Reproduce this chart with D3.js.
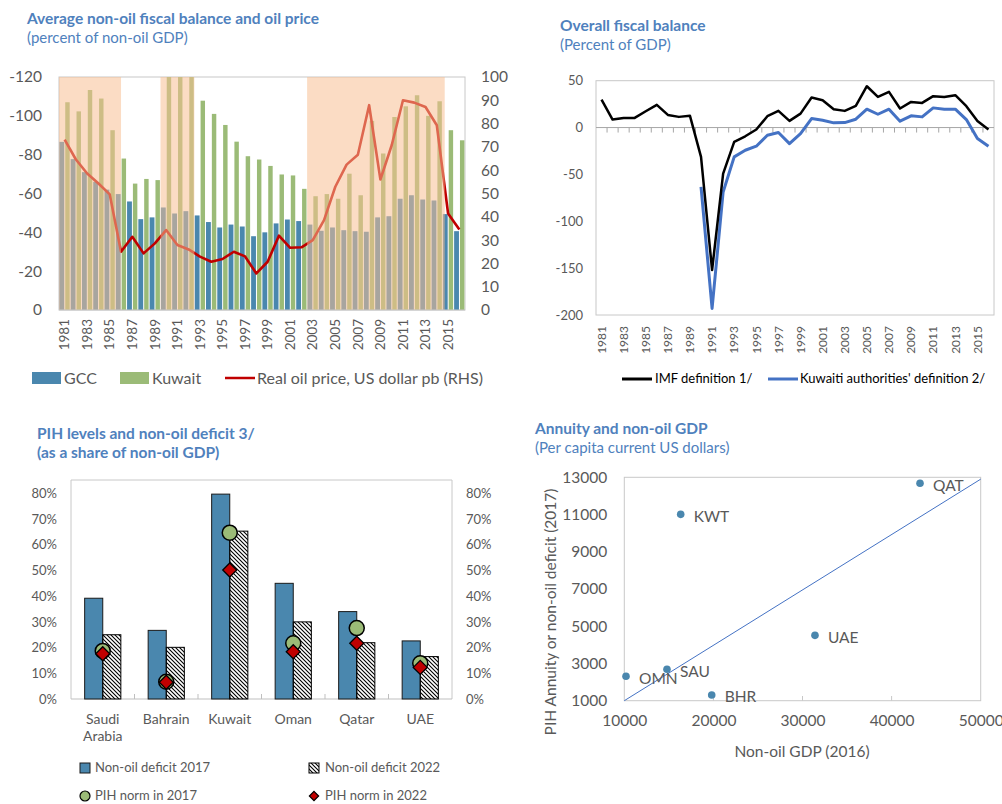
<!DOCTYPE html>
<html>
<head>
<meta charset="utf-8">
<script src="https://cdn.jsdelivr.net/npm/d3@7"></script>
<style>
  body { margin: 0; background: #fff; }
  text { font-family: Lato, "Open Sans", sans-serif; fill: #595959; }
  .ttl { fill: #4f81bd; font-weight: bold; font-size: 15.5px; }
  .sub { fill: #4f81bd; font-size: 15px; }
</style>
</head>
<body>
<svg width="1002" height="804"></svg>
<script>
(function () {
'use strict';

// ---- datos panel 1 ----
const years = d3.range(1981, 2017);
const yearLabels = [1981,1983,1985,1987,1989,1991,1993,1995,1997,1999,2001,2003,2005,2007,2009,2011,2013,2015];
const gccBal = [-86.6,-77.7,-71,-66,-62,-59.7,-55.9,-46.8,-47.7,-52.8,-49.7,-50.9,-48.7,-45.3,-42.5,-44,-43,-38,-40,-44.6,
                -46.6,-45.8,-44,-40.8,-42.5,-41.1,-40.6,-40.3,-47.7,-48.3,-57.3,-59.1,-56.9,-56.4,-49.4,-40.6];
const kuwaitBal = [-107,-102.3,-113.3,-108.9,-92.6,-78,-65.1,-67.5,-66.9,-160,-300,-140,-107.8,-101,-95.3,-86.7,-79.2,-77.5,
                   -74.2,-69.8,-69.3,-62.4,-58.6,-59.7,-57.3,-70.2,-59.1,-97.4,-80.6,-99.4,-104.9,-110.6,-100,-107.5,-92.6,-87.4];
const oilPrice = [73.1,64.6,58.6,54.3,49.6,25,31.4,24.3,28.6,34.3,27.9,26,22.9,20.7,21.9,25,23,15.7,20.7,31.9,
                  26.7,26.9,30,38.6,52.9,62.4,66.6,87.9,56,70.7,90,89,87.1,79.3,41.4,34.6];
const shadeFrom = [1981, 1990, 2003];
const shadeTo = [1986.5, 1993, 2015.2];
const leftTicks1 = [0,-20,-40,-60,-80,-100,-120];
const rightTicks1 = [0,10,20,30,40,50,60,70,80,90,100];

// ---- datos panel 2 ----
const imfBal = [29.9,8.5,10.3,10.3,17.4,24.2,13.5,11.4,12.5,-31.3,-152,-49.1,-15.3,-9.3,-2.1,12.1,17.8,7.1,14.9,32,
                29.2,19.6,17.8,23.1,44.1,32.7,38.1,20.3,27.4,26.3,33.5,32.7,34.5,22.8,7.1,-2.1];
const kwtAuthBal = [null,null,null,null,null,null,null,null,null,-63.3,-193,-68.7,-31.3,-24.2,-19.9,-8.2,-5.3,-17.1,-6.4,9.6,
                    7.8,5,5.3,8.9,19.6,14.2,19.6,6.8,12.5,11.4,21,19.6,19.6,8.5,-11.7,-19.9];
const ticks2 = [50,0,-50,-100,-150,-200];

// ---- datos panel 3 ----
const countries = ['Saudi Arabia','Bahrain','Kuwait','Oman','Qatar','UAE'];
const deficit2017 = [39.2,26.7,79.7,45,34,22.6];
const deficit2022 = [25,20.1,65.3,30,21.9,16.5];
const pihNorm2017 = [18.7,6.7,64.7,21.7,27.6,13.9];
const pihNorm2022 = [17.6,6.5,50.2,18.4,21.7,12.3];
const ticks3 = [0,10,20,30,40,50,60,70,80];

// ---- datos panel 4 ----
const codes = ['QAT','KWT','UAE','SAU','OMN','BHR'];
const nonOilGdp = [43190,16330,31400,14790,10190,19810];
const pihAnnuity = [12680,11010,4510,2690,2310,1306];
const refLineX = [10000, 50000];
const refLineY = [1000, 12900];
const xTicks4 = [10000,20000,30000,40000,50000];
const yTicks4 = [1000,3000,5000,7000,9000,11000,13000];

const azul = '#4a87ae';
const verde = '#9bbb77';
const rojo = '#c00000';
const borde = '#c8c8c8';
const guion = d => String(d);   // guion normal, como el original

const svg = d3.select('svg');

// patrón rayado
svg.append('defs').append('pattern')
    .attr('id', 'rayas')
    .attr('patternUnits', 'userSpaceOnUse')
    .attr('width', 4).attr('height', 4)
  .append('path')
    .attr('d', 'M-1,-1L5,5M3,-1L5,1M-1,3L1,5')
    .attr('stroke', '#000').attr('stroke-width', 1.1);

function limpiar(g) { g.select('.domain').remove(); g.selectAll('line').remove(); }

// =================== PANEL 1 ===================
svg.append('text').attr('class', 'ttl').attr('x', 27).attr('y', 24).text('Average non-oil fiscal balance and oil price');
svg.append('text').attr('class', 'sub').attr('x', 27).attr('y', 43).text('(percent of non-oil GDP)');

const x1 = d3.scaleBand().domain(years).range([59, 465]);
const xl1 = d3.scaleLinear().domain([1981, 2017]).range([59, 465]);
const yL = d3.scaleLinear().domain([0, -120]).range([310, 77]).clamp(true);
const yR = d3.scaleLinear().domain([0, 100]).range([310, 77]);
const bw1 = x1.bandwidth();

const p1 = svg.append('g');
p1.append('rect').attr('x', 59).attr('y', 77).attr('width', 406).attr('height', 233)
    .attr('fill', 'none').attr('stroke', borde);

p1.append('g').selectAll('rect').data(years).join('rect')
    .attr('x', d => x1(d) + 0.4)
    .attr('width', bw1 / 2 - 0.8)
    .attr('y', (d, i) => yL(gccBal[i]))
    .attr('height', (d, i) => yL(0) - yL(gccBal[i]))
    .attr('fill', azul);

p1.append('g').selectAll('rect').data(years).join('rect')
    .attr('x', d => x1(d) + bw1 / 2 + 0.6)
    .attr('width', bw1 / 2 - 1.2)
    .attr('y', (d, i) => yL(kuwaitBal[i]))
    .attr('height', (d, i) => yL(0) - yL(kuwaitBal[i]))
    .attr('fill', verde);

p1.append('path')
    .datum(oilPrice)
    .attr('fill', 'none').attr('stroke', rojo).attr('stroke-width', 2.6)
    .attr('stroke-linejoin', 'round')
    .attr('d', d3.line().x((d, i) => x1(years[i]) + bw1 / 2).y(d => yR(d)));

// sombreado encima
p1.append('g').selectAll('rect').data(shadeFrom).join('rect')
    .attr('x', d => xl1(d))
    .attr('width', (d, i) => xl1(shadeTo[i]) - xl1(d))
    .attr('y', 77).attr('height', 233)
    .attr('fill', '#f8be92').attr('opacity', 0.54);

p1.append('line').attr('x1', 59).attr('x2', 465).attr('y1', 310).attr('y2', 310).attr('stroke', borde);

p1.append('g').attr('transform', 'translate(59,0)')
    .call(d3.axisLeft(yL).tickValues(leftTicks1).tickSize(0).tickPadding(17).tickFormat(guion))
    .call(limpiar)
    .selectAll('text').style('font-size', '15.5px').style('font-family', 'Lato');

p1.append('g').attr('transform', 'translate(465,0)')
    .call(d3.axisRight(yR).tickValues(rightTicks1).tickSize(0).tickPadding(16).tickFormat(guion))
    .call(limpiar)
    .selectAll('text').style('font-size', '15.5px').style('font-family', 'Lato');

p1.append('g').attr('transform', 'translate(0,310)')
    .call(d3.axisBottom(x1).tickValues(yearLabels).tickSize(0))
    .call(limpiar)
    .selectAll('text')
      .attr('transform', 'rotate(-90)').attr('x', -9).attr('y', 0).attr('dy', '0.35em')
      .attr('text-anchor', 'end').style('font-size', '13.5px').style('font-family', 'Lato');

// leyenda 1
const l1 = p1.append('g');
l1.append('rect').attr('x', 32).attr('y', 372).attr('width', 29).attr('height', 12).attr('fill', azul);
l1.append('text').attr('x', 64).attr('y', 384).style('font-size', '16px').text('GCC');
l1.append('rect').attr('x', 120).attr('y', 372).attr('width', 29).attr('height', 12).attr('fill', verde);
l1.append('text').attr('x', 152).attr('y', 384).style('font-size', '16px').text('Kuwait');
l1.append('line').attr('x1', 225).attr('x2', 255).attr('y1', 378).attr('y2', 378).attr('stroke', rojo).attr('stroke-width', 2.5);
l1.append('text').attr('x', 257).attr('y', 384).style('font-size', '16px').text('Real oil price, US dollar pb (RHS)');

// =================== PANEL 2 ===================
svg.append('text').attr('class', 'ttl').attr('x', 560).attr('y', 31).text('Overall fiscal balance');
svg.append('text').attr('class', 'sub').attr('x', 560).attr('y', 50).text('(Percent of GDP)');

const x2 = d3.scaleBand().domain(years).range([596, 994]);
const y2 = d3.scaleLinear().domain([-200, 50]).range([315, 80.7]);
const bw2 = x2.bandwidth();
const p2 = svg.append('g');

p2.append('rect').attr('x', 596).attr('y', 80.7).attr('width', 398).attr('height', 234.3)
    .attr('fill', 'none').attr('stroke', borde);
p2.append('line').attr('x1', 596).attr('x2', 994).attr('y1', y2(0)).attr('y2', y2(0)).attr('stroke', '#a6a6a6');
p2.append('g').selectAll('line').data(years.slice(1)).join('line')
    .attr('x1', d => x2(d)).attr('x2', d => x2(d))
    .attr('y1', y2(0)).attr('y2', y2(0) + 5).attr('stroke', '#a6a6a6');

p2.append('g').attr('transform', 'translate(596,0)')
    .call(d3.axisLeft(y2).tickValues(ticks2).tickSize(0).tickPadding(13).tickFormat(guion))
    .call(limpiar)
    .selectAll('text').style('font-size', '13px').style('font-family', 'Lato');

p2.append('g').attr('transform', 'translate(0,315)')
    .call(d3.axisBottom(x2).tickValues(yearLabels).tickSize(0))
    .call(limpiar)
    .selectAll('text')
      .attr('transform', 'rotate(-90)').attr('x', -11).attr('y', 0).attr('dy', '0.35em')
      .attr('text-anchor', 'end').style('font-size', '12px').style('font-family', 'Lato');

const line2 = d3.line()
    .defined(d => d != null)
    .x((d, i) => x2(years[i]) + bw2 / 2)
    .y(d => y2(d));

p2.append('path').datum(kwtAuthBal)
    .attr('fill', 'none').attr('stroke', '#4472c4').attr('stroke-width', 3).attr('stroke-linejoin', 'round')
    .attr('d', line2);
p2.append('path').datum(imfBal)
    .attr('fill', 'none').attr('stroke', '#000').attr('stroke-width', 2.5).attr('stroke-linejoin', 'round')
    .attr('d', line2);

const l2 = p2.append('g');
l2.append('line').attr('x1', 622).attr('x2', 652).attr('y1', 379).attr('y2', 379).attr('stroke', '#000').attr('stroke-width', 3);
l2.append('text').attr('x', 655).attr('y', 383).style('font-size', '13px').style('fill', '#000').text('IMF definition 1/');
l2.append('line').attr('x1', 768).attr('x2', 798).attr('y1', 379).attr('y2', 379).attr('stroke', '#4472c4').attr('stroke-width', 3);
l2.append('text').attr('x', 800).attr('y', 383).style('font-size', '13px').style('fill', '#000').text("Kuwaiti authorities' definition 2/");

// =================== PANEL 3 ===================
svg.append('text').attr('class', 'ttl').attr('x', 37).attr('y', 439).text('PIH levels and non-oil deficit 3/');
svg.append('text').attr('class', 'ttl').attr('x', 37).attr('y', 458).text('(as a share of non-oil GDP)');

const x3 = d3.scaleBand().domain(countries).range([71, 452]);
const y3 = d3.scaleLinear().domain([0, 85]).range([699, 480.5]);
const bw3 = x3.bandwidth() * 0.285;
const cx3 = d => x3(d) + x3.bandwidth() / 2;
const p3 = svg.append('g');

p3.append('polyline').attr('points', '71,699 71,480 452,480 452,699')
    .attr('fill', 'none').attr('stroke', borde);
p3.append('line').attr('x1', 71).attr('x2', 452).attr('y1', 699).attr('y2', 699).attr('stroke', '#bfbfbf');
p3.append('g').selectAll('line').data(countries.slice(1)).join('line')
    .attr('x1', d => x3(d)).attr('x2', d => x3(d)).attr('y1', 699).attr('y2', 694).attr('stroke', '#bfbfbf');

p3.append('g').attr('transform', 'translate(71,0)')
    .call(d3.axisLeft(y3).tickValues(ticks3).tickSize(0).tickPadding(14).tickFormat(d => d + '%'))
    .call(limpiar)
    .selectAll('text').style('font-size', '13px').style('font-family', 'Lato');
p3.append('g').attr('transform', 'translate(452,0)')
    .call(d3.axisRight(y3).tickValues(ticks3).tickSize(0).tickPadding(14).tickFormat(d => d + '%'))
    .call(limpiar)
    .selectAll('text').style('font-size', '13px').style('font-family', 'Lato');

p3.append('g').selectAll('rect').data(countries).join('rect')
    .attr('x', d => cx3(d) - bw3).attr('width', bw3)
    .attr('y', (d, i) => y3(deficit2017[i])).attr('height', (d, i) => y3(0) - y3(deficit2017[i]))
    .attr('fill', azul).attr('stroke', '#1a1a1a').attr('stroke-width', 1);
p3.append('g').selectAll('rect').data(countries).join('rect')
    .attr('x', d => cx3(d)).attr('width', bw3)
    .attr('y', (d, i) => y3(deficit2022[i])).attr('height', (d, i) => y3(0) - y3(deficit2022[i]))
    .attr('fill', 'url(#rayas)').attr('stroke', '#000').attr('stroke-width', 1);

p3.append('g').selectAll('circle').data(countries).join('circle')
    .attr('cx', d => cx3(d)).attr('cy', (d, i) => y3(pihNorm2017[i])).attr('r', 7.5)
    .attr('fill', verde).attr('stroke', '#000').attr('stroke-width', 1.5);
p3.append('g').selectAll('path').data(countries).join('path')
    .attr('transform', (d, i) => `translate(${cx3(d)},${y3(pihNorm2022[i])})`)
    .attr('d', d3.symbol().type(d3.symbolDiamond2).size(125))
    .attr('fill', rojo).attr('stroke', '#000').attr('stroke-width', 1.3);

const etiq = p3.append('g').selectAll('text').data(countries).join('text')
    .attr('x', d => cx3(d)).attr('y', 724).attr('text-anchor', 'middle').style('font-size', '14px');
etiq.each(function (d) {
  const partes = d.split(' ');
  d3.select(this).selectAll('tspan').data(partes).join('tspan')
      .attr('x', cx3(d)).attr('dy', (p, k) => k === 0 ? 0 : 17).text(p => p);
});

const l3 = p3.append('g');
l3.append('rect').attr('x', 80).attr('y', 763).attr('width', 10).attr('height', 10).attr('fill', azul).attr('stroke', '#1a1a1a');
l3.append('text').attr('x', 95).attr('y', 772).style('font-size', '13px').text('Non-oil deficit 2017');
l3.append('rect').attr('x', 309).attr('y', 763).attr('width', 10).attr('height', 10).attr('fill', 'url(#rayas)').attr('stroke', '#000');
l3.append('text').attr('x', 325).attr('y', 772).style('font-size', '13px').text('Non-oil deficit 2022');
l3.append('circle').attr('cx', 85).attr('cy', 796).attr('r', 5).attr('fill', verde).attr('stroke', '#000').attr('stroke-width', 1.2);
l3.append('text').attr('x', 95).attr('y', 800).style('font-size', '13px').text('PIH norm in 2017');
l3.append('path').attr('transform', 'translate(314,796)')
    .attr('d', d3.symbol().type(d3.symbolDiamond2).size(55))
    .attr('fill', rojo).attr('stroke', '#000').attr('stroke-width', 1.2);
l3.append('text').attr('x', 325).attr('y', 800).style('font-size', '13px').text('PIH norm in 2022');

// =================== PANEL 4 ===================
svg.append('text').attr('class', 'ttl').attr('x', 535).attr('y', 434).text('Annuity and non-oil GDP');
svg.append('text').attr('class', 'sub').attr('x', 535).attr('y', 453).text('(Per capita current US dollars)');

const x4 = d3.scaleLinear().domain([10000, 50000]).range([624.3, 980.7]);
const y4 = d3.scaleLinear().domain([1000, 13000]).range([700.7, 477.3]);
const p4 = svg.append('g');

p4.append('rect').attr('x', 624.3).attr('y', 477.3).attr('width', 356.4).attr('height', 223.4)
    .attr('fill', 'none').attr('stroke', borde);
p4.append('g').selectAll('line').data(xTicks4.slice(1, -1)).join('line')
    .attr('x1', d => x4(d)).attr('x2', d => x4(d)).attr('y1', 700.7).attr('y2', 696).attr('stroke', borde);

p4.append('g').attr('transform', 'translate(624.3,0)')
    .call(d3.axisLeft(y4).tickValues(yTicks4).tickSize(0).tickPadding(17).tickFormat(guion))
    .call(limpiar)
    .selectAll('text').style('font-size', '15.5px').style('font-family', 'Lato');
p4.append('g').attr('transform', 'translate(0,700.7)')
    .call(d3.axisBottom(x4).tickValues(xTicks4).tickSize(0).tickPadding(14).tickFormat(guion))
    .call(limpiar)
    .selectAll('text').style('font-size', '15.5px').style('font-family', 'Lato');

p4.append('text').attr('x', 802).attr('y', 757).attr('text-anchor', 'middle').style('font-size', '15.5px').text('Non-oil GDP (2016)');
p4.append('text').attr('transform', 'translate(556,612) rotate(-90)').attr('text-anchor', 'middle')
    .style('font-size', '15.5px').text('PIH Annuity or non-oil deficit (2017)');

p4.append('line')
    .attr('x1', x4(refLineX[0])).attr('y1', y4(refLineY[0]))
    .attr('x2', x4(refLineX[1])).attr('y2', y4(refLineY[1]))
    .attr('stroke', '#4472c4').attr('stroke-width', 1);

p4.append('g').selectAll('circle').data(codes).join('circle')
    .attr('cx', (d, i) => x4(nonOilGdp[i])).attr('cy', (d, i) => y4(pihAnnuity[i])).attr('r', 3.8)
    .attr('fill', azul);
p4.append('g').selectAll('text').data(codes).join('text')
    .attr('x', (d, i) => x4(nonOilGdp[i]) + 13).attr('y', (d, i) => y4(pihAnnuity[i]) + 2)
    .attr('dy', '0.35em').style('font-size', '15.5px').text(d => d);

}());
</script>
</body>
</html>
